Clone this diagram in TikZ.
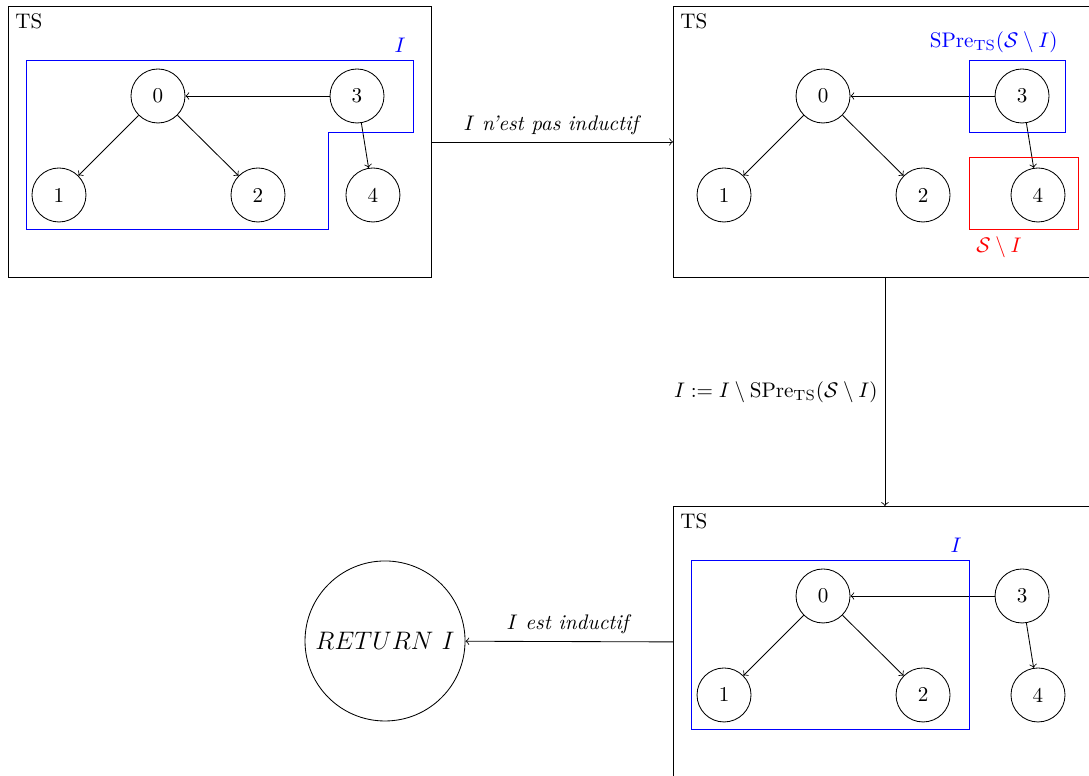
\documentclass[tikz,border=0pt]{standalone}
\usepackage{tikz}
\usepackage{amssymb}

\begin{document}
\begin{tikzpicture}[
    etat/.style={draw,circle,minimum size=0.9cm,inner sep=0pt},
    tsbox/.style={draw,anchor=north west,minimum width=7.05cm,minimum height=4.517cm,inner sep=0pt},
    tslbl/.style={anchor=north west},
]

    \useasboundingbox(0,0)rectangle(18.15,-12.933);

    % premier systeme
    \begin{scope}[shift={(0.133,-0.1)}]
    \node[tsbox](ts1)at(0,0){};
    \node[tslbl](l1)at(ts1.north west){TS};
    \node[etat](a0)at(2.5,-1.5){0};
    \node[etat](a1)at(0.85,-3.15){1};
    \node[etat](a2)at(4.167,-3.15){2};
    \node[etat](a3)at(5.817,-1.5){3};
    \node[etat](a4)at(6.083,-3.15){4};
    \draw[->](a3)--(a0);
    \draw[->](a0)--(a1);
    \draw[->](a0)--(a2);
    \draw[->](a3)--(a4);
    \draw[blue](0.3,-0.9)--(6.75,-0.9)--(6.75,-2.1)--(5.333,-2.1)--(5.333,-3.717)--(0.3,-3.717)--cycle;
    \node[blue,above left](i1)at(6.75,-0.9){$I$};
    \end{scope}

    % deuxieme systeme
    \begin{scope}[shift={(11.217,-0.1)}]
    \node[tsbox](ts2)at(0,0){};
    \node[tslbl](l2)at(ts2.north west){TS};
    \node[etat](b0)at(2.5,-1.5){0};
    \node[etat](b1)at(0.85,-3.15){1};
    \node[etat](b2)at(4.167,-3.15){2};
    \node[etat](b3)at(5.817,-1.5){3};
    \node[etat](b4)at(6.083,-3.15){4};
    \draw[->](b3)--(b0);
    \draw[->](b0)--(b1);
    \draw[->](b0)--(b2);
    \draw[->](b3)--(b4);
    \draw[blue](4.933,-0.9)rectangle(6.533,-2.1);
    \node[blue,above left](pre)at(6.533,-0.9){$\mathrm{SPre}_{\mathrm{TS}}(\mathcal{S}\setminus I)$};
    \draw[red](4.933,-2.517)rectangle(6.75,-3.717);
    \node[red,below right](si)at(4.933,-3.717){$\mathcal{S}\setminus I$};
    \end{scope}

    % troisieme systeme
    \begin{scope}[shift={(11.217,-8.433)}]
    \node[tsbox](ts3)at(0,0){};
    \node[tslbl](l3)at(ts3.north west){TS};
    \node[etat](c0)at(2.5,-1.5){0};
    \node[etat](c1)at(0.85,-3.15){1};
    \node[etat](c2)at(4.167,-3.15){2};
    \node[etat](c3)at(5.817,-1.5){3};
    \node[etat](c4)at(6.083,-3.15){4};
    \draw[->](c3)--(c0);
    \draw[->](c0)--(c1);
    \draw[->](c0)--(c2);
    \draw[->](c3)--(c4);
    \draw[blue](0.3,-0.9)rectangle(4.933,-3.717);
    \node[blue,above left](i3)at(4.933,-0.9){$I$};
    \end{scope}

    \node[draw,circle,minimum size=2.667cm,inner sep=0pt](ret)at(6.417,-10.683){\large$RETURN~I$};

    \draw[->](ts1.east)--(ts2.west)node[midway,above]{\textit{$I$ n'est pas inductif}};
    \draw[->](ts2.south)--(ts3.north)node[midway,left]{$I:=I\setminus\mathrm{SPre}_{\mathrm{TS}}(\mathcal{S}\setminus I)$};
    \draw[->](ts3.west)--(ret)node[midway,above]{\textit{$I$ est inductif}};

\end{tikzpicture}
\end{document}
